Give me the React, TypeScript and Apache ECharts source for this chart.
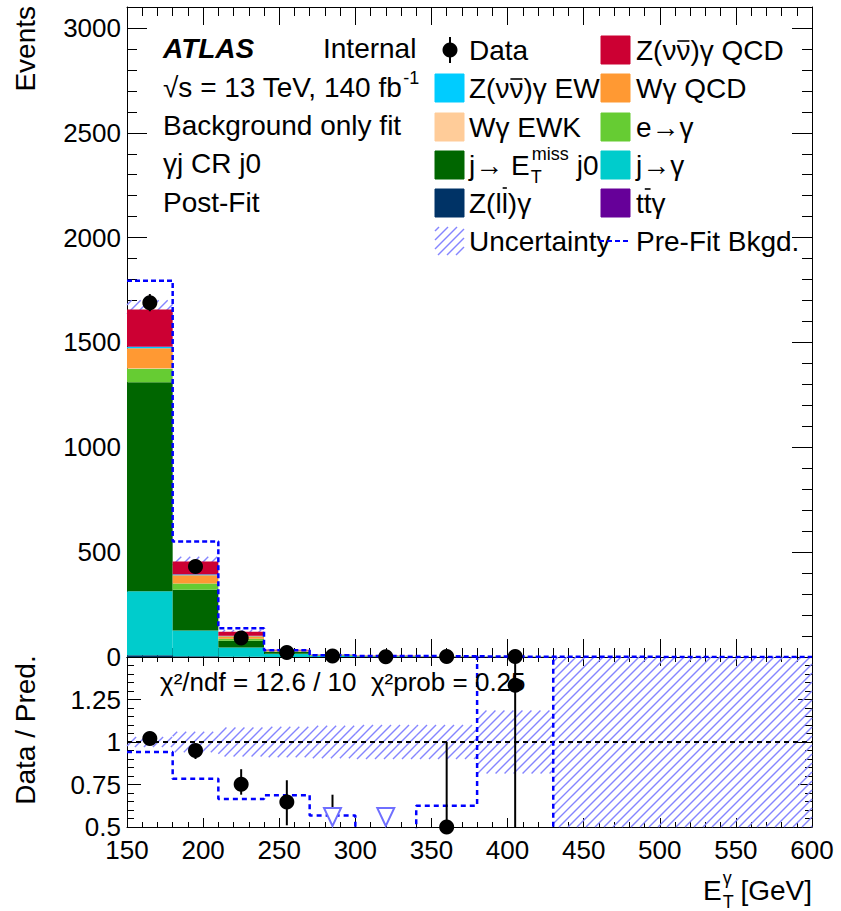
import React, { useEffect, useRef } from 'react';
import * as echarts from 'echarts';

// ---------- data ----------
const binEdges = [150, 180, 210, 240, 270, 300, 340, 380, 430, 600];
const zllGamma = [8, 3, 1, 0.5, 0.2, 0.1, 0.05, 0.02, 0];
const jToGamma = [305, 123, 44, 15, 5, 2.5, 1.2, 0.4, 0];
const jToMet = [997, 195, 32, 8, 2.5, 1.5, 0.9, 0.3, 0];
const eToGamma = [65, 29, 10, 3, 1, 0.6, 0.4, 0.15, 0];
const wgEWK = [2, 1, 0.5, 0.2, 0.1, 0.1, 0.05, 0.02, 0];
const wgQCD = [96, 39, 12, 3.3, 1.2, 0.9, 0.6, 0.25, 0];
const zvvEW = [5, 3, 1, 0.5, 0.3, 0.2, 0.1, 0.05, 0];
const ttGamma = [3, 2, 0.5, 0.2, 0.1, 0.1, 0.05, 0.01, 0];
const zvvQCD = [176, 60, 20, 3.3, 1.6, 1.0, 0.65, 0.3, 0];

const dataCounts = [1690, 432, 91, 22, 5, 1, 2, 2, 0];
const dataErrLo = [1649, 411, 81, 17, 3, 0.2, 0.7, 0.7, 0];
const dataErrHi = [1731, 453, 101, 27, 8, 3.3, 4.6, 4.6, 0];
const preFitBkg = [1795, 551, 137, 32, 8.8, 5, 3.2, 1.0, 0.05];
const postFitUnc = [44, 23, 8, 3, 1.2, 0.7, 0.4, 0.27, 0];

const ratioUnc = [0.03, 0.06, 0.085, 0.09, 0.095, 0.1, 0.1, 0.185, 1];
const ratioErrLo = [0.995, 0.9, 0.69, 0.51, 0.61, NaN, 0.5, 0.0, NaN];
const ratioErrHi = [1.045, 0.98, 0.84, 0.775, 0.69, NaN, 1.0, 3.0, NaN];

const mainYTicks = [0, 500, 1000, 1500, 2000, 2500, 3000];
const ratioYTicks = [0.5, 0.75, 1, 1.25];

const components = [
  { key: 'zll', color: '#003366', values: zllGamma },
  { key: 'jgam', color: '#00cccc', values: jToGamma },
  { key: 'jmet', color: '#006600', values: jToMet },
  { key: 'egam', color: '#66cc33', values: eToGamma },
  { key: 'wewk', color: '#ffcc99', values: wgEWK },
  { key: 'wqcd', color: '#ff9933', values: wgQCD },
  { key: 'zew', color: '#00ccff', values: zvvEW },
  { key: 'tt', color: '#660099', values: ttGamma },
  { key: 'zqcd', color: '#cc0033', values: zvvQCD },
];

const FONT = '"Liberation Sans", Arial, Helvetica, sans-serif';
const HATCH = '#8585ff';

function hatchRender(params: any, api: any) {
  const x0 = api.value(0), x1 = api.value(1), lo = api.value(2), hi = api.value(3);
  const a = api.coord([x0, hi]);
  const b = api.coord([x1, lo]);
  const cs = params.coordSys;
  const X0 = Math.max(Math.min(a[0], b[0]), cs.x);
  const X1 = Math.min(Math.max(a[0], b[0]), cs.x + cs.width);
  const Y0 = Math.max(Math.min(a[1], b[1]), cs.y);
  const Y1 = Math.min(Math.max(a[1], b[1]), cs.y + cs.height);
  const children: any[] = [];
  const s = 9;
  if (X1 <= X0 || Y1 <= Y0) return { type: 'group', children };
  for (let c = Math.ceil((X0 + Y0) / s) * s; c <= X1 + Y1; c += s) {
    const xa = Math.max(X0, c - Y1);
    const xb = Math.min(X1, c - Y0);
    if (xb > xa) {
      children.push({
        type: 'line',
        shape: { x1: xa, y1: c - xa, x2: xb, y2: c - xb },
        style: { stroke: HATCH, lineWidth: 1.4 },
      });
    }
  }
  return { type: 'group', children };
}

function errRender(params: any, api: any) {
  const x = api.value(0), lo = api.value(1), hi = api.value(2);
  const p1 = api.coord([x, lo]);
  const p2 = api.coord([x, hi]);
  const cs = params.coordSys;
  const yTop = Math.max(Math.min(p1[1], p2[1]), cs.y);
  const yBot = Math.min(Math.max(p1[1], p2[1]), cs.y + cs.height);
  return {
    type: 'line',
    shape: { x1: p1[0], y1: yTop, x2: p1[0], y2: yBot },
    style: { stroke: '#000', lineWidth: 2 },
  };
}

export default function App() {
  const ref = useRef<HTMLDivElement>(null);

  useEffect(() => {
    const chart = echarts.init(ref.current!, null, { renderer: 'svg' });
    const ctx = document.createElement('canvas').getContext('2d')!;
    const measure = (t: string, size: number, extra = '') => {
      ctx.font = `${extra} ${size}px "Liberation Sans"`;
      return ctx.measureText(t).width;
    };

    const nBins = binEdges.length - 1;
    const totals = Array.from({ length: nBins }, (_, i) =>
      components.reduce((s, c) => s + c.values[i], 0)
    );

    const cum = new Array(nBins).fill(0);
    const stackSeries = components.map((c) => {
      const items = [] as number[][];
      for (let i = 0; i < nBins; i++) {
        items.push([binEdges[i], binEdges[i + 1], cum[i], cum[i] + c.values[i]]);
        cum[i] += c.values[i];
      }
      return {
        type: 'custom',
        xAxisIndex: 0,
        yAxisIndex: 0,
        z: 3,
        renderItem: (params: any, api: any) => {
          const p0 = api.coord([api.value(0), api.value(2)]);
          const p1 = api.coord([api.value(1), api.value(3)]);
          return {
            type: 'rect',
            shape: { x: p0[0], y: p1[1], width: p1[0] - p0[0], height: p0[1] - p1[1] },
            style: { fill: c.color },
          };
        },
        data: items,
        encode: { x: [0, 1], y: [2, 3] },
      };
    });

    const mainBand = [] as number[][];
    for (let i = 0; i < nBins; i++) {
      if (totals[i] > 0) mainBand.push([binEdges[i], binEdges[i + 1], totals[i] - postFitUnc[i], totals[i] + postFitUnc[i]]);
    }
    const ratioBand = ratioUnc.map((u, i) => [binEdges[i], binEdges[i + 1], 1 - u, 1 + u]);

    const preStep: number[][] = [];
    const preRatioStep: number[][] = [];
    for (let i = 0; i < nBins; i++) {
      preStep.push([binEdges[i], preFitBkg[i]], [binEdges[i + 1], preFitBkg[i]]);
      const r = dataCounts[i] / preFitBkg[i];
      preRatioStep.push([binEdges[i], r], [binEdges[i + 1], r]);
    }

    const centers = Array.from({ length: nBins }, (_, i) => (binEdges[i] + binEdges[i + 1]) / 2);
    const mainPts: number[][] = [];
    const mainErr: number[][] = [];
    const ratioPts: number[][] = [];
    const ratioTri: number[][] = [];
    const ratioErr: number[][] = [];
    for (let i = 0; i < nBins; i++) {
      if (dataCounts[i] > 0) {
        mainPts.push([centers[i], dataCounts[i]]);
        mainErr.push([centers[i], dataErrLo[i], dataErrHi[i]]);
      }
      if (totals[i] > 0 && dataCounts[i] > 0) {
        const r = dataCounts[i] / totals[i];
        if (r < 0.5) ratioTri.push([centers[i], 0.5]);
        else ratioPts.push([centers[i], r]);
      }
      if (!isNaN(ratioErrLo[i])) ratioErr.push([centers[i], ratioErrLo[i], ratioErrHi[i]]);
    }

    const tickStyle = { color: '#000', width: 1 };
    const baseX = (grid: number, pos: string, showLabel: boolean, tl: number, ml: number) => ({
      type: 'value',
      gridIndex: grid,
      position: pos,
      min: 150,
      max: 600,
      interval: 50,
      axisLine: { show: true, onZero: false, lineStyle: { color: '#000', width: 1 } },
      axisTick: { show: true, inside: true, length: tl, lineStyle: tickStyle },
      minorTick: { show: true, splitNumber: 5, length: ml, lineStyle: tickStyle },
      splitLine: { show: false },
      axisLabel: showLabel
        ? { show: true, fontSize: 26, fontFamily: FONT, color: '#000', margin: 10 }
        : { show: false },
    });

    const option: any = {
      animation: false,
      backgroundColor: '#fff',
      grid: [
        { left: 127, top: 7, width: 685, height: 650 },
        { left: 127, top: 657, width: 685, height: 170 },
      ],
      xAxis: [
        baseX(0, 'bottom', false, 18, 9),
        baseX(0, 'top', false, 18, 9),
        baseX(1, 'bottom', true, 9, 5),
        baseX(1, 'top', false, 9, 5),
      ],
      yAxis: [
        {
          type: 'value', gridIndex: 0, position: 'left', min: 0, max: 3100, interval: 500,
          axisLine: { show: true, onZero: false, lineStyle: { color: '#000', width: 1 } },
          axisTick: { show: true, inside: true, length: 20, lineStyle: tickStyle },
          splitLine: { show: false },
          axisLabel: {
            show: true, fontSize: 26, fontFamily: FONT, color: '#000', margin: 6,
            formatter: (v: number) => (mainYTicks.includes(v) ? String(v) : ''),
          },
        },
        {
          type: 'value', gridIndex: 0, position: 'left', min: 0, max: 3100, interval: 100,
          axisLine: { show: false },
          axisTick: { show: true, inside: true, length: 10, lineStyle: tickStyle },
          splitLine: { show: false }, axisLabel: { show: false },
        },
        {
          type: 'value', gridIndex: 0, position: 'right', min: 0, max: 3100, interval: 500,
          axisLine: { show: true, onZero: false, lineStyle: { color: '#000', width: 1 } },
          axisTick: { show: true, inside: true, length: 20, lineStyle: tickStyle },
          splitLine: { show: false }, axisLabel: { show: false },
        },
        {
          type: 'value', gridIndex: 0, position: 'right', min: 0, max: 3100, interval: 100,
          axisLine: { show: false },
          axisTick: { show: true, inside: true, length: 10, lineStyle: tickStyle },
          splitLine: { show: false }, axisLabel: { show: false },
        },
        {
          type: 'value', gridIndex: 1, position: 'left', min: 0.5, max: 1.5, interval: 0.25,
          axisLine: { show: true, onZero: false, lineStyle: { color: '#000', width: 1 } },
          axisTick: { show: true, inside: true, length: 14, lineStyle: tickStyle },
          minorTick: { show: true, splitNumber: 5, length: 7, lineStyle: tickStyle },
          splitLine: { show: false },
          axisLabel: {
            show: true, fontSize: 26, fontFamily: FONT, color: '#000', margin: 6,
            formatter: (v: number) => (ratioYTicks.includes(v) ? String(v) : ''),
          },
        },
        {
          type: 'value', gridIndex: 1, position: 'right', min: 0.5, max: 1.5, interval: 0.25,
          axisLine: { show: true, onZero: false, lineStyle: { color: '#000', width: 1 } },
          axisTick: { show: true, inside: true, length: 14, lineStyle: tickStyle },
          minorTick: { show: true, splitNumber: 5, length: 7, lineStyle: tickStyle },
          splitLine: { show: false }, axisLabel: { show: false },
        },
      ],
      series: [
        {
          type: 'custom', xAxisIndex: 0, yAxisIndex: 0, z: 2,
          renderItem: hatchRender, data: mainBand, encode: { x: [0, 1], y: [2, 3] },
        },
        ...stackSeries,
        {
          type: 'line', xAxisIndex: 0, yAxisIndex: 0, z: 4, data: preStep, symbol: 'none',
          lineStyle: { color: '#0000ff', width: 2.5, type: [5, 3] },
        },
        {
          type: 'custom', xAxisIndex: 0, yAxisIndex: 0, z: 9,
          renderItem: errRender, data: mainErr, encode: { x: 0, y: [1, 2] },
        },
        {
          type: 'scatter', xAxisIndex: 0, yAxisIndex: 0, z: 10, data: mainPts,
          symbol: 'circle', symbolSize: 15, itemStyle: { color: '#000', opacity: 1 },
        },
        // ratio panel
        {
          type: 'custom', xAxisIndex: 2, yAxisIndex: 4, z: 2,
          renderItem: hatchRender, data: ratioBand, encode: { x: [0, 1], y: [2, 3] },
        },
        {
          type: 'line', xAxisIndex: 2, yAxisIndex: 4, z: 3, data: [[150, 1], [600, 1]], symbol: 'none',
          lineStyle: { color: '#000', width: 2, type: [5, 4] },
        },
        {
          type: 'line', xAxisIndex: 2, yAxisIndex: 4, z: 4, data: preRatioStep, symbol: 'none',
          lineStyle: { color: '#0000ff', width: 2.5, type: [5, 4] },
        },
        {
          type: 'custom', xAxisIndex: 2, yAxisIndex: 4, z: 6,
          renderItem: errRender, data: ratioErr, encode: { x: 0, y: [1, 2] },
        },
        {
          type: 'scatter', xAxisIndex: 2, yAxisIndex: 4, z: 7, data: ratioPts,
          symbol: 'circle', symbolSize: 15, itemStyle: { color: '#000', opacity: 1 },
        },
        {
          type: 'scatter', xAxisIndex: 2, yAxisIndex: 4, z: 7, data: ratioTri,
          symbol: 'triangle', symbolRotate: 180, symbolSize: [17, 18], symbolOffset: [0, -10],
          itemStyle: { color: '#ffffff', borderColor: '#6f6fff', borderWidth: 2, opacity: 1 },
        },
      ],
    };

    // ---------- graphic texts / legend ----------
    const g: any[] = [];
    const txt = (text: string, x: number, y: number, size = 28, extra: any = {}) => ({
      type: 'text', x, y, z: 100,
      style: { text, fontSize: size, fontFamily: FONT, fill: '#000', textVerticalAlign: 'middle', ...extra },
    });
    // text with an overline above one character
    const barTxt = (pre: string, barred: string, post: string, x: number, y: number, dy: number) => {
      g.push(txt(pre + barred + post, x, y));
      const xa = x + measure(pre, 28);
      const xb = x + measure(pre + barred, 28);
      g.push({ type: 'line', z: 100, shape: { x1: xa + 1, y1: y + dy, x2: xb - 1, y2: y + dy }, style: { stroke: '#000', lineWidth: 1.6 } });
    };

    // top-left labels
    g.push(txt('ATLAS', 163, 48, 28, { fontWeight: 'bold', fontStyle: 'italic' }));
    g.push(txt('Internal', 323, 48));
    const sLine = '√s = 13 TeV, 140 fb';
    g.push(txt(sLine, 163, 87));
    g.push(txt('-1', 163 + measure(sLine, 28) + 1, 78, 18));
    g.push(txt('Background only fit', 163, 125));
    g.push(txt('γj CR j0', 163, 163));
    g.push(txt('Post-Fit', 163, 202));

    // legend
    const rows = [50, 88, 127, 165, 203, 241];
    const c1Box = 435, c1Txt = 469, c2Box = 601, c2Txt = 636;
    const colorOf = (k: string) => components.find((c) => c.key === k)!.color;
    const box = (x: number, y: number, k: string) => ({
      type: 'rect', z: 100,
      shape: { x, y: y - 14, width: 29, height: 28 },
      style: { fill: colorOf(k), stroke: colorOf(k), lineWidth: 1 },
    });
    // row 0
    g.push({ type: 'line', z: 100, shape: { x1: 450, y1: rows[0] - 13, x2: 450, y2: rows[0] + 13 }, style: { stroke: '#000', lineWidth: 2 } });
    g.push({ type: 'circle', z: 100, shape: { cx: 450, cy: rows[0], r: 7.5 }, style: { fill: '#000' } });
    g.push(txt('Data', c1Txt, rows[0]));
    g.push(box(c2Box, rows[0], 'zqcd'));
    barTxt('Z(ν', 'ν', ')γ QCD', c2Txt, rows[0], -9);
    // row 1
    g.push(box(c1Box, rows[1], 'zew'));
    barTxt('Z(ν', 'ν', ')γ EW', c1Txt, rows[1], -9);
    g.push(box(c2Box, rows[1], 'wqcd'));
    g.push(txt('Wγ QCD', c2Txt, rows[1]));
    // row 2
    g.push(box(c1Box, rows[2], 'wewk'));
    g.push(txt('Wγ EWK', c1Txt, rows[2]));
    g.push(box(c2Box, rows[2], 'egam'));
    g.push(txt('e→γ', c2Txt, rows[2]));
    // row 3
    g.push(box(c1Box, rows[3], 'jmet'));
    const jE = 'j→ E';
    const wjE = measure(jE, 28);
    g.push(txt(jE, c1Txt, rows[3]));
    g.push(txt('miss', c1Txt + wjE + 2, rows[3] - 11, 18));
    g.push(txt('T', c1Txt + wjE + 1, rows[3] + 12, 18));
    g.push(txt('j0', c1Txt + wjE + 2 + measure('miss', 18) + 8, rows[3]));
    g.push(box(c2Box, rows[3], 'jgam'));
    g.push(txt('j→γ', c2Txt, rows[3]));
    // row 4
    g.push(box(c1Box, rows[4], 'zll'));
    barTxt('Z(l', 'l', ')γ', c1Txt, rows[4], -15);
    g.push(box(c2Box, rows[4], 'tt'));
    barTxt('t', 't', 'γ', c2Txt, rows[4], -14);
    // row 5
    {
      const X0 = c1Box, X1 = c1Box + 29, Y0 = rows[5] - 14, Y1 = rows[5] + 14;
      const s = 9;
      for (let c = Math.ceil((X0 + Y0) / s) * s; c <= X1 + Y1; c += s) {
        const xa = Math.max(X0, c - Y1);
        const xb = Math.min(X1, c - Y0);
        if (xb > xa) g.push({ type: 'line', z: 100, shape: { x1: xa, y1: c - xa, x2: xb, y2: c - xb }, style: { stroke: HATCH, lineWidth: 1.4 } });
      }
    }
    g.push(txt('Uncertainty', c1Txt, rows[5]));
    g.push({ type: 'line', z: 100, shape: { x1: c2Box - 2, y1: rows[5], x2: c2Box + 29, y2: rows[5] }, style: { stroke: '#0000ff', lineWidth: 2, lineDash: [5, 3] } });
    g.push(txt('Pre-Fit Bkgd.', c2Txt, rows[5]));

    // chi2 text
    g.push(txt('χ²/ndf = 12.6 / 10  χ²prob = 0.25', 160, 682, 26));

    // axis titles
    g.push({
      type: 'text', x: 25, y: 6, rotation: Math.PI / 2, z: 100,
      style: { text: 'Events', fontSize: 28, fontFamily: FONT, fill: '#000', textAlign: 'right', textVerticalAlign: 'middle' },
    });
    g.push({
      type: 'text', x: 25, y: 730, rotation: Math.PI / 2, z: 100,
      style: { text: 'Data / Pred.', fontSize: 28, fontFamily: FONT, fill: '#000', textAlign: 'center', textVerticalAlign: 'middle' },
    });
    {
      const wE = measure('E', 28);
      const wSub = measure('γ', 18);
      const tail = ' [GeV]';
      const wTail = measure(tail, 28);
      const x0 = 812 - (wE + wSub + 2 + wTail);
      const yb = 890;
      g.push(txt('E', x0, yb));
      g.push(txt('γ', x0 + wE + 1, yb - 12, 18));
      g.push(txt('T', x0 + wE + 1, yb + 12, 18));
      g.push(txt(tail, x0 + wE + wSub + 2, yb));
    }

    option.graphic = g;
    chart.setOption(option);
    return () => chart.dispose();
  }, []);

  return (
    <div
      ref={ref}
      style={{ position: 'fixed', left: 0, top: 0, width: 841, height: 911, background: '#fff' }}
    />
  );
}
